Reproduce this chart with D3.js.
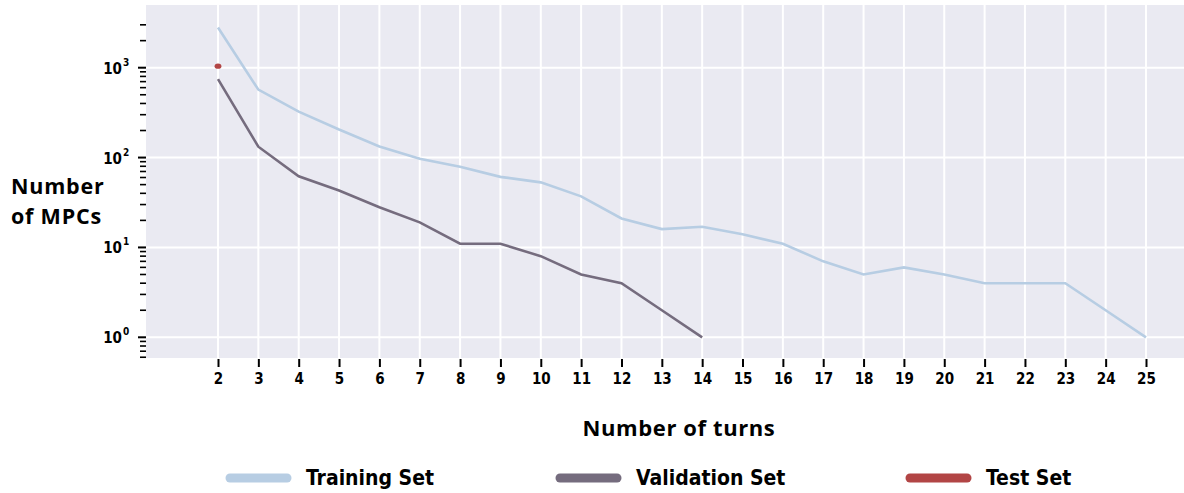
<!DOCTYPE html>
<html>
<head>
<meta charset="utf-8">
<script src="https://cdn.jsdelivr.net/npm/d3@7"></script>
<style>
  body { margin: 0; background: #ffffff; }
  svg { display: block; }
  .tick text { font-family: 'Liberation Sans Narrow', 'DejaVu Sans Condensed', sans-serif; font-weight: bold; fill: #000; }
  .lbl { font-family: 'Open Sans', sans-serif; font-weight: bold; fill: #000; }
  .leg { font-family: 'Liberation Sans Narrow', 'DejaVu Sans Condensed', sans-serif; font-weight: bold; fill: #000; }
</style>
</head>
<body>
<div class="chart-wrap"></div>
<script>
// data
const turns = d3.range(2, 26)
const trainTurns = [2, 3, 4, 5, 6, 7, 8, 9, 10, 11, 12, 13, 14, 15, 16, 17, 18, 19, 20, 21, 22, 23, 24, 25]
const trainCounts = [2800, 570, 325, 205, 133, 97, 79, 61, 53, 37, 21, 16, 17, 14, 11, 7, 5, 6, 5, 4, 4, 4, 2, 1]
const valTurns = [2, 3, 4, 5, 6, 7, 8, 9, 10, 11, 12, 13, 14]
const valCounts = [745, 132, 62, 43, 28, 19, 11, 11, 8, 5, 4, 2, 1]
const testTurns = [2]
const testCounts = [1040]
const decades = [1, 10, 100, 1000]
const decadeLabels = ['0', '1', '2', '3']
const legendNames = ['Training Set', 'Validation Set', 'Test Set']
const colors = ['#b7cde3', '#756c7e', '#b24545']

const width = 1184, height = 493
const box = {left: 146, right: 1184, top: 5, bottom: 358}

const x = d3.scaleLinear().domain([2, 25]).range([218, 1146])
const y = d3.scaleLog().domain([1, 1000]).range([337.3, 67.7])

const svg = d3.select('.chart-wrap').append('svg')
.attr('width', width)
.attr('height', height)

svg.append('rect')
.attr('x', box.left).attr('y', box.top)
.attr('width', box.right - box.left).attr('height', box.bottom - box.top)
.attr('fill', '#eaeaf2')

// grid
let grid = svg.append('g')
grid.selectAll('.vg').data(turns).enter().append('line')
.attr('x1', d => x(d)).attr('x2', d => x(d))
.attr('y1', box.top).attr('y2', box.bottom)
.attr('stroke', '#ffffff').attr('stroke-width', 2)
grid.selectAll('.hg').data(decades).enter().append('line')
.attr('x1', box.left).attr('x2', box.right)
.attr('y1', d => y(d)).attr('y2', d => y(d))
.attr('stroke', '#ffffff').attr('stroke-width', 2)

// x axis
let xAxis = svg.append('g')
.attr('transform', `translate(0,${box.bottom + 1})`)
.call(d3.axisBottom(x).tickValues(turns).tickSize(8).tickPadding(6).tickFormat(d3.format('d')))
xAxis.select('.domain').remove()
xAxis.selectAll('line').attr('stroke', '#000').attr('stroke-width', 2)
xAxis.selectAll('text').style('font-size', '15px')

// y axis, minor ticks for 2..9 of each decade
let minor = []
d3.range(-1, 4).forEach(p => d3.range(1, 10).forEach(k => {
	let v = k * Math.pow(10, p)
	let py = y(v)
	if (py >= box.top + 12 && py <= box.bottom && decades.indexOf(v) < 0) minor.push(v)
}))

let yAxis = svg.append('g').attr('transform', `translate(${box.left},0)`)
yAxis.selectAll('.mn').data(minor).enter().append('line')
.attr('x1', -6).attr('x2', 0)
.attr('y1', d => y(d)).attr('y2', d => y(d))
.attr('stroke', '#000').attr('stroke-width', 1.6)
yAxis.selectAll('.mj').data(decades).enter().append('line')
.attr('x1', -8).attr('x2', 0)
.attr('y1', d => y(d)).attr('y2', d => y(d))
.attr('stroke', '#000').attr('stroke-width', 2)

yAxis.selectAll('.yl').data(decades).enter().append('text')
.attr('class', 'leg')
.attr('x', -24)
.attr('y', d => y(d) + 6)
.attr('text-anchor', 'end')
.style('font-size', '15px')
.text('10')
yAxis.selectAll('.ys').data(decades).enter().append('text')
.attr('class', 'leg')
.attr('x', -23)
.attr('y', d => y(d) - 2)
.style('font-size', '10px')
.text((d, i) => decadeLabels[i])

// lines
const line = d3.line().x(d => x(d[0])).y(d => y(d[1]))

svg.append('path')
.datum(trainTurns.map((t, i) => [t, trainCounts[i]]))
.attr('d', line)
.attr('fill', 'none').attr('stroke', colors[0]).attr('stroke-width', 2.6)

svg.append('path')
.datum(valTurns.map((t, i) => [t, valCounts[i]]))
.attr('d', line)
.attr('fill', 'none').attr('stroke', colors[1]).attr('stroke-width', 2.6)

svg.selectAll('.test').data(testTurns.map((t, i) => [t, testCounts[i]])).enter().append('ellipse')
.attr('cx', d => x(d[0])).attr('cy', d => y(d[1]))
.attr('rx', 3.4).attr('ry', 2.6)
.attr('fill', colors[2])

// axis titles
svg.append('text').attr('class', 'lbl')
.attr('x', 679).attr('y', 436)
.attr('text-anchor', 'middle')
.style('font-size', '22px')
.style('letter-spacing', '0.6px')
.text('Number of turns')

let yt = svg.append('text').attr('class', 'lbl')
.style('font-size', '21.5px')
.style('letter-spacing', '0.8px')
yt.append('tspan').attr('x', 11).attr('y', 194).text('Number')
yt.append('tspan').attr('x', 11).attr('y', 224).text('of MPCs')

// legend
const legX = [226, 556, 906]
let leg = svg.selectAll('.lg').data(legendNames).enter().append('g')
.attr('transform', (d, i) => `translate(${legX[i]},478)`)
leg.append('line')
.attr('x1', 4).attr('x2', 61).attr('y1', 0).attr('y2', 0)
.attr('stroke', (d, i) => colors[i]).attr('stroke-width', 9).attr('stroke-linecap', 'round')
leg.append('text').attr('class', 'leg')
.attr('x', 80).attr('y', 7)
.style('font-size', '21px')
.text(d => d)
</script>
</body>
</html>
